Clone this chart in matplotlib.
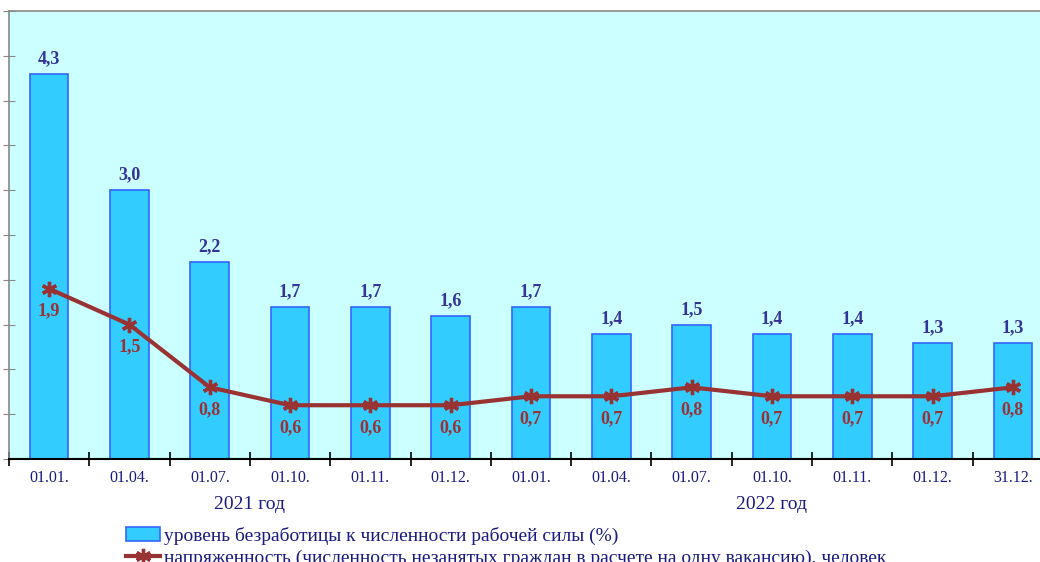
import numpy as np
import matplotlib.pyplot as plt
from matplotlib.ticker import MultipleLocator

plt.rcParams['font.family'] = ['Liberation Serif', 'DejaVu Serif']

dates = ['01.01.', '01.04.', '01.07.', '01.10.', '01.11.', '01.12.',
         '01.01.', '01.04.', '01.07.', '01.10.', '01.11.', '01.12.', '31.12.']
unemployment = [4.3, 3.0, 2.2, 1.7, 1.7, 1.6, 1.7, 1.4, 1.5, 1.4, 1.4, 1.3, 1.3]
tension = [1.9, 1.5, 0.8, 0.6, 0.6, 0.6, 0.7, 0.7, 0.8, 0.7, 0.7, 0.7, 0.8]
years = ['2021 год', '2022 год']
year_groups = [(0, 5), (6, 12)]

bar_label = 'уровень безработицы к численности рабочей силы (%)'
line_label = 'напряженность (численность незанятых граждан в расчете на одну вакансию), человек'

navy = '#1a1a80'
bar_text = '#333399'
red = '#993333'

fig = plt.figure(figsize=(10.4, 5.62), dpi=100)
ax = fig.add_axes([9 / 1040, 1 - 459 / 562, 1044 / 1040, 448 / 562])
ax.set_facecolor('#ccffff')

x = np.arange(len(dates))
bars = ax.bar(x, unemployment, width=0.48, color='#33ccff',
              edgecolor='#3366ff', linewidth=1.2, zorder=2,
              label=bar_label)
line, = ax.plot(x, tension, color=red, lw=3, marker=(6, 2, 0),
                markersize=11, markeredgewidth=2.4, zorder=3,
                label=line_label)

# подписи значений над столбцами и под точками линии
for xi, v in zip(x, unemployment):
    ax.annotate(f'{v:.1f}'.replace('.', ','), (xi, v), xytext=(0, 11),
                textcoords='offset points', ha='center', va='center',
                fontsize=13, fontweight='bold', color=bar_text)
for xi, v in zip(x, tension):
    ax.annotate(f'{v:.1f}'.replace('.', ','), (xi, v), xytext=(0, -16),
                textcoords='offset points', ha='center', va='center',
                fontsize=13, fontweight='bold', color=red)

ax.set_xlim(-0.5, len(dates) - 0.5)
ax.set_ylim(0, 5.0)
ax.yaxis.set_major_locator(MultipleLocator(0.5))
ax.set_yticklabels([])
ax.tick_params(axis='y', direction='inout', length=8, color='#888888')

ax.set_xticks(x)
ax.set_xticklabels(dates, fontsize=11.5, color=navy)
ax.tick_params(axis='x', length=0, pad=8)
ax.set_xticks(np.arange(-0.5, len(dates), 1), minor=True)
ax.tick_params(axis='x', which='minor', direction='inout', length=10,
               color='black', width=1.2)

for side in ['top', 'left']:
    ax.spines[side].set_color('#888888')
    ax.spines[side].set_linewidth(1.2)
ax.spines['right'].set_visible(False)
ax.spines['bottom'].set_color('black')
ax.spines['bottom'].set_linewidth(1.5)

for name, (a, b) in zip(years, year_groups):
    ax.text((a + b) / 2, -0.51, name, ha='center', va='center',
            fontsize=14, color=navy)

fig.legend(handles=[bars, line], loc='upper left',
           bbox_to_anchor=(116 / 1040, 1 - 517 / 562), frameon=False,
           fontsize=14, labelcolor=navy, handlelength=1.75,
           handletextpad=0.2, labelspacing=0.25, borderpad=0)

fig.savefig('out.png', dpi=100)
